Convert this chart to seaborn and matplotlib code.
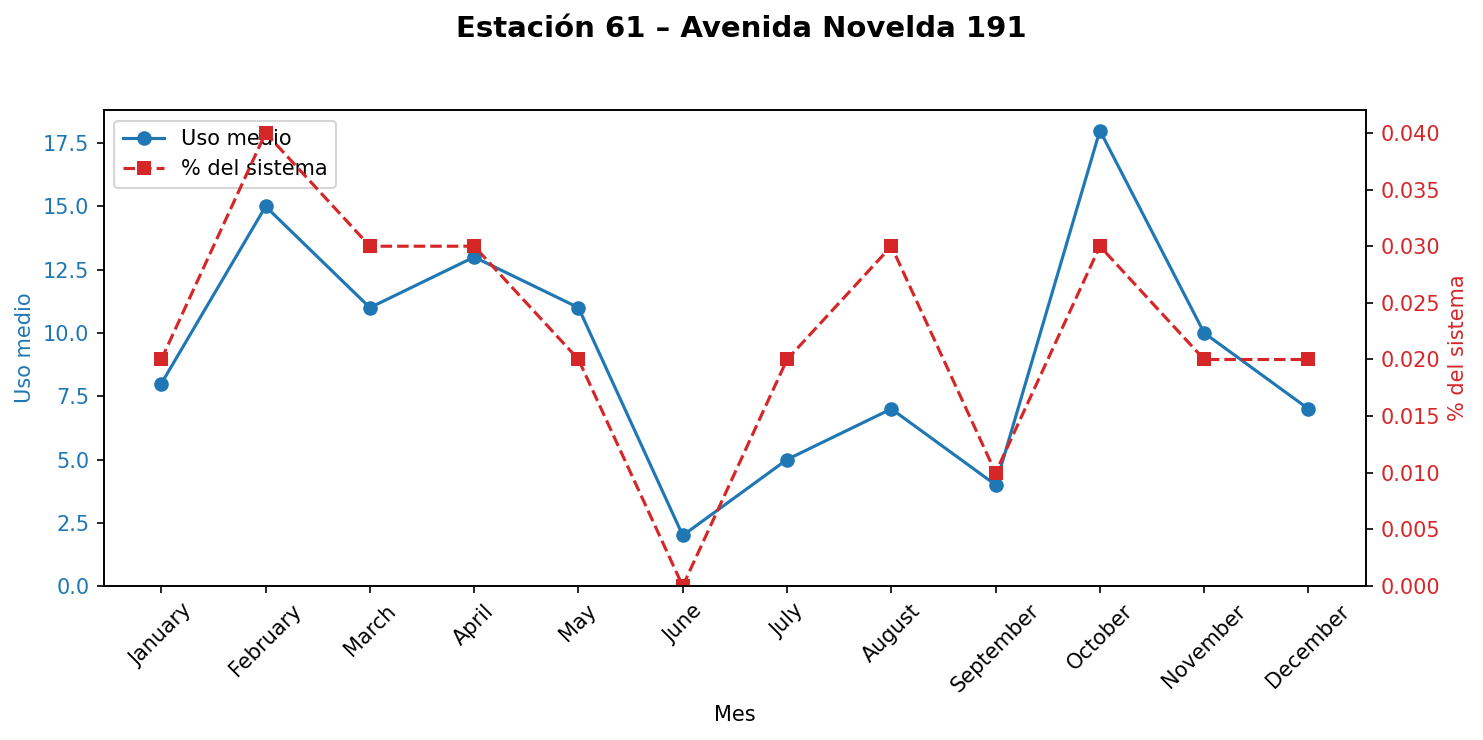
import matplotlib
matplotlib.use("Agg")
import matplotlib.pyplot as plt
import seaborn as sns
import pandas as pd

# data
meses = ["January", "February", "March", "April", "May", "June", "July",
         "August", "September", "October", "November", "December"]
uso_medio = [8, 15, 11, 13, 11, 2, 5, 7, 4, 18, 10, 7]
pct_sistema = [0.02, 0.04, 0.03, 0.03, 0.02, 0.0, 0.02, 0.03, 0.01, 0.03, 0.02, 0.02]

df = pd.DataFrame({"Mes": meses, "uso": uso_medio, "pct": pct_sistema})

fig, ax1 = plt.subplots(figsize=(1483 / 150, 740 / 150), dpi=150)
fig.subplots_adjust(left=0.0701, right=0.921, top=0.851, bottom=0.208)

sns.lineplot(data=df, x="Mes", y="uso", sort=False, ax=ax1, color="tab:blue",
             marker="o", markersize=7, markeredgewidth=0, label="Uso medio", legend=False)
ax1.set_ylabel("Uso medio", color="tab:blue")
ax1.tick_params(axis="y", labelcolor="tab:blue")
ax1.set_xlabel("Mes")
ax1.set_ylim(bottom=0)
ax1.tick_params(axis="x", rotation=45)

ax2 = ax1.twinx()
sns.lineplot(data=df, x="Mes", y="pct", sort=False, ax=ax2, color="tab:red",
             marker="s", markersize=7, markeredgewidth=0, linestyle="--",
             label="% del sistema", legend=False)
ax2.set_ylabel("% del sistema", color="tab:red")
ax2.tick_params(axis="y", labelcolor="tab:red")
ax2.set_ylim(bottom=0)

h1, l1 = ax1.get_legend_handles_labels()
h2, l2 = ax2.get_legend_handles_labels()
ax1.legend(h1 + h2, l1 + l2, loc="upper left")

fig.suptitle("Estación 61 – Avenida Novelda 191", fontsize=14, fontweight="bold", y=0.98)

fig.savefig("out.png", dpi=150)
